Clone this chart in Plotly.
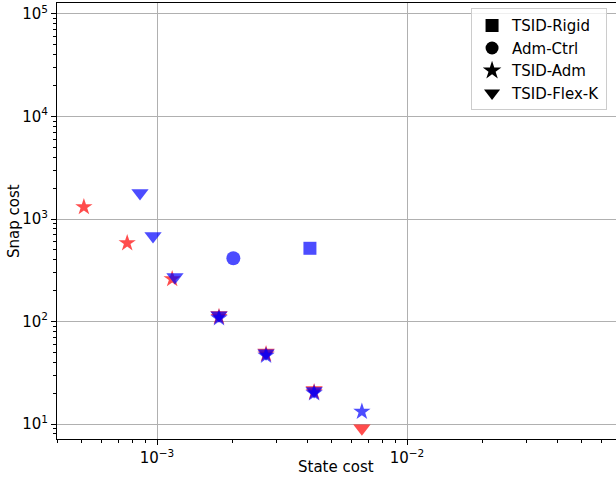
import plotly.graph_objects as go

# Data (state cost, snap cost)
red_star_x = [5.1e-4, 7.6e-4, 1.15e-3, 1.77e-3, 2.73e-3, 4.25e-3]
red_star_y = [1310, 583, 260, 111, 48, 20.5]
red_tri_x = [1.77e-3, 2.73e-3, 4.25e-3, 6.6e-3]
red_tri_y = [116, 50, 21.5, 9.1]

blue_tri_x = [8.55e-4, 9.64e-4, 1.18e-3, 1.77e-3, 2.73e-3, 4.25e-3]
blue_tri_y = [1795, 682, 272, 115, 49, 21]
blue_star_x = [1.77e-3, 2.73e-3, 4.25e-3, 6.6e-3]
blue_star_y = [108, 46.5, 20, 13.2]
blue_circle_x = [2.02e-3]
blue_circle_y = [414]
blue_square_x = [4.09e-3]
blue_square_y = [518]

legend_labels = ["TSID-Rigid", "Adm-Ctrl", "TSID-Adm", "TSID-Flex-K"]
legend_symbols = ["square", "circle", "star", "triangle-down"]

RED = "rgba(255,0,0,0.7)"
BLUE = "rgba(0,0,255,0.7)"

fig = go.Figure()

def add(x, y, sym, col, size):
    fig.add_trace(go.Scatter(x=x, y=y, mode="markers", showlegend=False,
                             marker=dict(symbol=sym, color=col, size=size, line=dict(width=0))))

add(red_star_x, red_star_y, "star", RED, 13)
add(red_tri_x, red_tri_y, "triangle-down", RED, 15)
add(blue_tri_x, blue_tri_y, "triangle-down", BLUE, 15)
add(blue_star_x, blue_star_y, "star", BLUE, 13)
add(blue_circle_x, blue_circle_y, "circle", BLUE, 14)
add(blue_square_x, blue_square_y, "square", BLUE, 13)

for lab, sym in zip(legend_labels, legend_symbols):
    fig.add_trace(go.Scatter(x=[None], y=[None], mode="markers", name=lab,
                             marker=dict(symbol=sym, color="black", size=14 if sym in ("star", "triangle-down") else 13)))

x_major = [1e-4, 1e-3, 1e-2, 1e-1]
x_major_text = ["10<sup>−4</sup>", "10<sup>−3</sup>", "10<sup>−2</sup>", "10<sup>−1</sup>"]
y_major = [1e1, 1e2, 1e3, 1e4, 1e5]
y_major_text = ["10<sup>1</sup>", "10<sup>2</sup>", "10<sup>3</sup>", "10<sup>4</sup>", "10<sup>5</sup>"]

x_minor = [m * 10.0 ** e for e in range(-5, 0) for m in range(2, 10)]
y_minor = [m * 10.0 ** e for e in range(0, 6) for m in range(2, 10)]

fig.update_xaxes(type="log", range=[-3.4, -1.164], tickvals=x_major, ticktext=x_major_text,
                 showgrid=True, gridcolor="#b0b0b0", gridwidth=1,
                 showline=True, linecolor="black", linewidth=1, mirror=True,
                 ticks="outside", ticklen=5, tickcolor="black",
                 minor=dict(tickvals=x_minor, ticks="outside", ticklen=3, tickcolor="black", showgrid=False),
                 zeroline=False,
                 tickfont=dict(size=15, color="black"))
fig.update_yaxes(type="log", range=[0.854, 5.107], tickvals=y_major, ticktext=y_major_text,
                 showgrid=True, gridcolor="#b0b0b0", gridwidth=1,
                 showline=True, linecolor="black", linewidth=1, mirror=False,
                 ticks="outside", ticklen=5, tickcolor="black",
                 minor=dict(tickvals=y_minor, ticks="outside", ticklen=3, tickcolor="black", showgrid=False),
                 zeroline=False,
                 tickfont=dict(size=15, color="black"))

fig.add_annotation(text="State cost", xref="paper", yref="paper", x=0.499, y=-0.0635,
                   xanchor="center", yanchor="middle", showarrow=False,
                   font=dict(size=15, color="black"))
fig.add_annotation(text="Snap cost", xref="paper", yref="paper", x=-0.077, y=0.5,
                   xanchor="center", yanchor="middle", showarrow=False, textangle=-90,
                   font=dict(size=15, color="black"))

fig.update_layout(
    width=616, height=481,
    margin=dict(l=57, r=0, t=3, b=42),
    paper_bgcolor="white", plot_bgcolor="white",
    font=dict(family="DejaVu Sans", size=15, color="black"),
    legend=dict(x=0.984, y=0.988, xanchor="right", yanchor="top",
                bgcolor="rgba(255,255,255,0.8)", bordercolor="#cccccc", borderwidth=1,
                font=dict(size=15, color="black")),
)

fig.write_html("out.html")
